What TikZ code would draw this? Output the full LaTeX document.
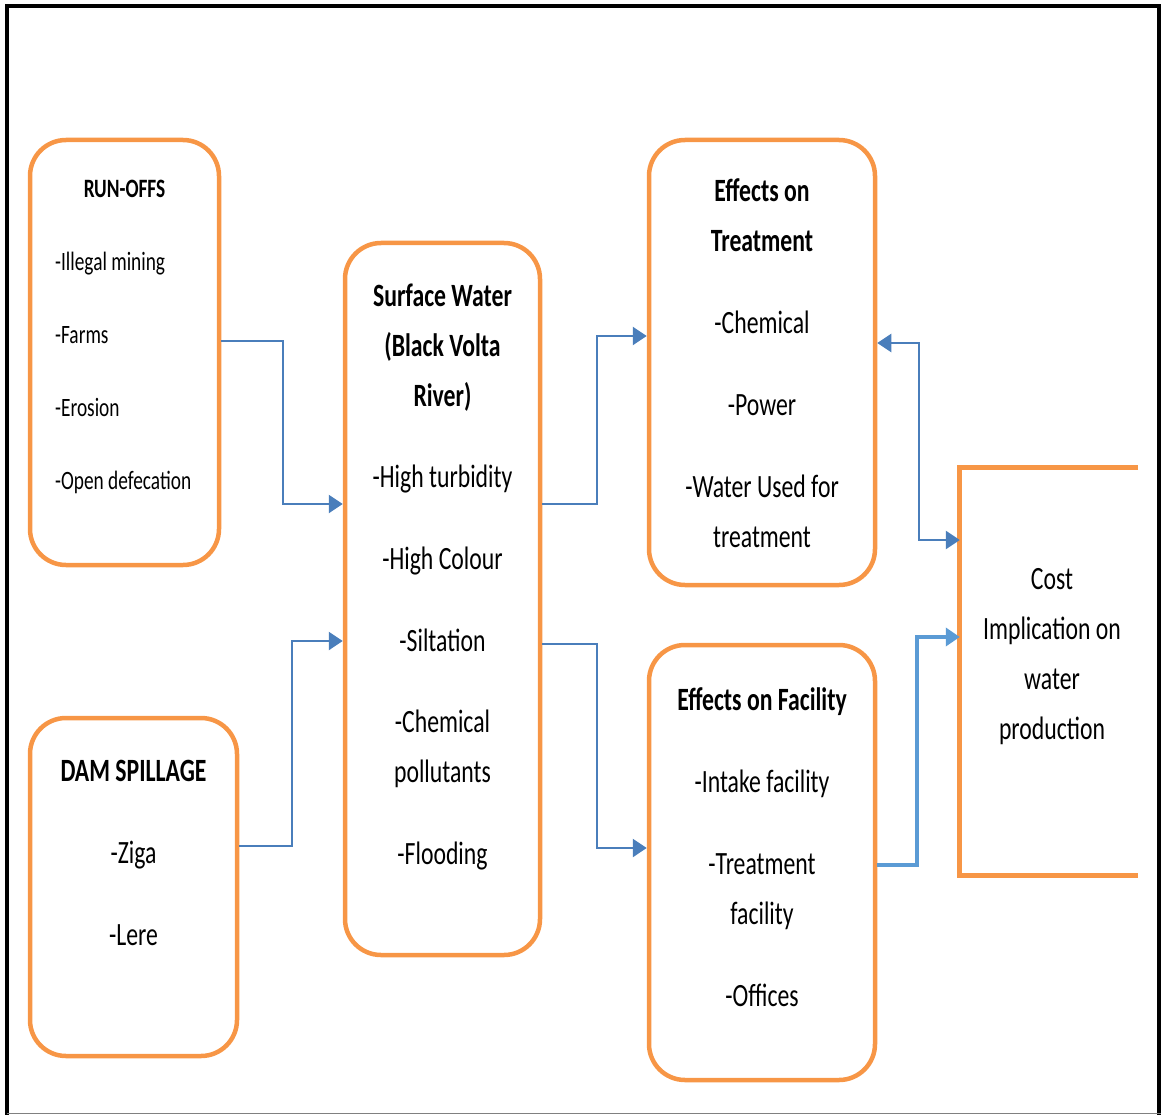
\documentclass[tikz,border=0pt]{standalone}
\usepackage{fontspec}
\setmainfont{Carlito}[FakeStretch=0.73]
\usetikzlibrary{arrows.meta}
\definecolor{boxorange}{HTML}{F79646}
\definecolor{linkblue}{HTML}{4A7EBB}
\definecolor{lightblue}{HTML}{5B9BD5}
\begin{document}
\begin{tikzpicture}[x=1pt,y=-1pt,
  box/.style={draw=boxorange, line width=4.5pt, rounded corners=36pt, inner sep=0pt},
  txt/.style={font=\fontsize{32.5}{50}\selectfont, align=center, inner sep=0pt, anchor=north},
  link/.style={draw=linkblue, line width=2.5pt, -{Triangle[length=14pt,width=18pt]}},
]
\useasboundingbox (0,0) rectangle (1161,1115);
% outer frame
\draw[black, line width=4pt] (6.5,1115) -- (6.5,6.5) -- (1158.5,6.5) -- (1158.5,1115);
\draw[gray, line width=1.5pt] (6.5,1113.5) -- (1161,1113.5);

% boxes
\node[box, minimum width=189pt, minimum height=425pt] (runoffs) at (124.5,352.5) {};
\node[box, minimum width=195pt, minimum height=712pt] (surface) at (442.5,599) {};
\node[box, minimum width=226pt, minimum height=445pt] (treat) at (762,362.5) {};
\node[box, minimum width=226pt, minimum height=435pt] (facil) at (762,862.5) {};
\node[box, minimum width=207pt, minimum height=338pt] (dam) at (133.5,887) {};
\node[minimum width=178pt, minimum height=407pt, inner sep=0pt] (cost) at (1049,671.5) {};
\draw[boxorange, line width=5pt] (cost.north east) -- (cost.north west) -- (cost.south west) -- (cost.south east);

% texts
\node[font=\fontsize{26.5}{30}\selectfont\bfseries, anchor=base, inner sep=0pt] (runtitle) at (124.5,197.5) {RUN-OFFS};
\node[font=\fontsize{26.5}{73}\selectfont, align=left, anchor=north west, inner sep=0pt] (runitems) at (55,219.5)
  {\strut-Illegal mining\\-Farms\\-Erosion\\-Open defecation};
\node[txt] (surfacetext) at (442.5,271.5) {\strut\textbf{Surface Water}\\\textbf{(Black Volta}\\\textbf{River)}\\[31pt]-High turbidity\\[32pt]-High Colour\\[32pt]-Siltation\\[31pt]-Chemical\\pollutants\\[32pt]-Flooding};
\node[txt] (treattext) at (762,166.5) {\strut\textbf{Effects on}\\\textbf{Treatment}\\[32pt]-Chemical\\[32pt]-Power\\[32pt]-Water Used for\\treatment};
\node[txt] (faciltext) at (762,675.5) {\strut\textbf{Effects on Facility}\\[32pt]-Intake facility\\[32pt]-Treatment\\facility\\[32pt]-Offices};
\node[txt] (damtext) at (133.5,746.5) {\strut\textbf{DAM SPILLAGE}\\[32pt]-Ziga\\[32pt]-Lere};
\node[txt] (costtext) at (1052,554.5) {\strut Cost\\Implication on\\water\\production};

% connectors
\draw[link] (runoffs.east |- 0,341) -- (283,341) |- (surface.west |- 0,504);
\draw[link] (dam.east |- 0,846) -- (292,846) |- (surface.west |- 0,641);
\draw[link] (surface.east |- 0,504) -- (597,504) |- (treat.west |- 0,336);
\draw[link] (surface.east |- 0,644) -- (597,644) |- (facil.west |- 0,848);
\draw[draw=lightblue, line width=3.5pt, -{Triangle[length=14pt,width=18pt]}] (facil.east |- 0,865) -- (917,865) |- (cost.west |- 0,637);
\draw[draw=linkblue, line width=2.5pt, {Triangle[length=14pt,width=18pt]}-{Triangle[length=14pt,width=18pt]}] (treat.east |- 0,343) -| (919,540) -- (cost.west |- 0,540);
\end{tikzpicture}
\end{document}
